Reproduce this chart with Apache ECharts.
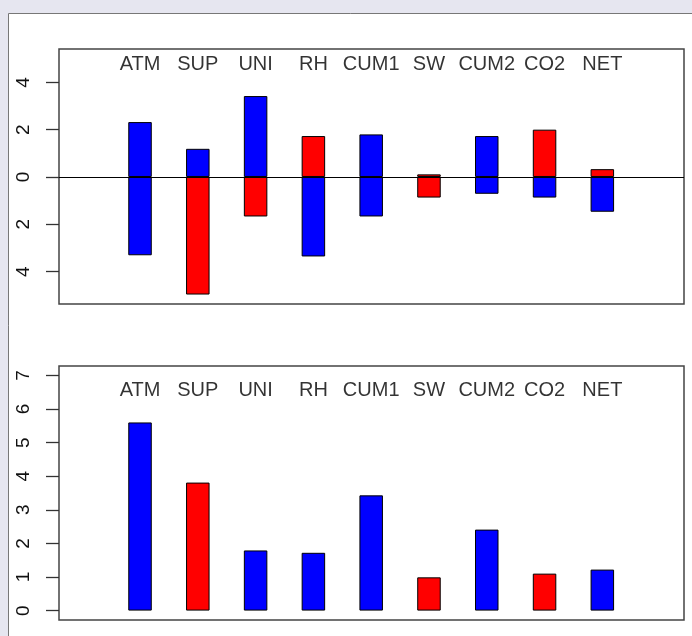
<!DOCTYPE html>
<html>
<head>
<meta charset="utf-8">
<script src="https://cdn.jsdelivr.net/npm/echarts@6/dist/echarts.min.js"></script>
<style>
html,body{margin:0;padding:0;background:#E6E6F0;}
#c{width:692px;height:636px;}
</style>
</head>
<body>
<div id="c"></div>
<script>
// ---- data ----
var categories = ['ATM','SUP','UNI','RH','CUM1','SW','CUM2','CO2','NET'];
// top panel: positive and negative parts of each bar
var topPos = [2.32, 1.19, 3.42, 1.73, 1.80, 0.11, 1.73, 2.00, 0.33];
var topPosKind = ['b','b','b','r','b','r','b','r','r'];
var topNeg = [-3.31, -4.97, -1.67, -3.36, -1.67, -0.87, -0.71, -0.87, -1.47];
var topNegKind = ['b','r','r','b','b','r','b','b','b'];
// bottom panel
var botVals = [5.60, 3.81, 1.79, 1.72, 3.43, 0.99, 2.41, 1.10, 1.22];
var botKind = ['b','r','b','b','b','r','b','r','b'];
// tick labels
var topTicks = [-4, -2, 0, 2, 4];
var botTicks = [0, 1, 2, 3, 4, 5, 6, 7];

// ---- styling ----
var COL = {b:'#0000FF', r:'#FF0000'};
var FONT = 'Liberation Sans, Arial, sans-serif';
var X_MIN = -1.402, X_MAX = 9.413;

function barData(vals, kinds){
  return vals.map(function(v,i){
    return {value:[i, v], itemStyle:{color:COL[kinds[i]]}};
  });
}
function labelData(yPos){
  return categories.map(function(n,i){ return {value:[i, yPos], name:n}; });
}
var barStyle = {borderColor:'#000', borderWidth:1};
var labelSeries = function(xi, yi, yPos){
  return {
    type:'scatter', xAxisIndex:xi, yAxisIndex:yi, silent:true,
    symbolSize:1, itemStyle:{color:'transparent'},
    data: labelData(yPos),
    label:{show:true, position:'inside', formatter:function(p){return p.name;},
           fontSize:20, fontFamily:FONT, color:'#000'},
    z:5
  };
};
function yAxisCfg(gi, min, max, ticks){
  return {
    type:'value', gridIndex:gi, min:min, max:max, position:'left',
    axisLine:{show:false, onZero:false},
    splitLine:{show:false},
    axisTick:{show:true, length:13, customValues:ticks, lineStyle:{color:'#333', width:1.3}},
    axisLabel:{show:true, customValues:ticks, rotate:90, margin:26,
      fontSize:19, fontFamily:FONT, color:'#111',
      formatter:function(v){ return String(Math.abs(v)); }}
  };
}
function xAxisCfg(gi){
  return {type:'value', gridIndex:gi, min:X_MIN, max:X_MAX, show:false,
          axisLine:{onZero:false}};
}

var chart = echarts.init(document.getElementById('c'), null, {renderer:'canvas'});
chart.setOption({
  animation:false,
  backgroundColor:'#E6E6F0',
  graphic:[{
    type:'rect', z:-10, silent:true,
    shape:{x:8.5, y:13.5, width:720, height:660},
    style:{fill:'#fff', stroke:'#777', lineWidth:1}
  }],
  grid:[
    {left:59, top:49, width:625, height:255, show:true, borderColor:'#444', borderWidth:1.5, backgroundColor:'transparent'},
    {left:59, top:366, width:625, height:254, show:true, borderColor:'#444', borderWidth:1.5, backgroundColor:'transparent'}
  ],
  xAxis:[xAxisCfg(0), xAxisCfg(1)],
  yAxis:[yAxisCfg(0, -5.37, 5.41, topTicks), yAxisCfg(1, -0.28, 7.28, botTicks)],
  series:[
    {type:'bar', xAxisIndex:0, yAxisIndex:0, barWidth:23.5, barGap:'-100%',
     itemStyle:barStyle, data:barData(topPos, topPosKind)},
    {type:'bar', xAxisIndex:0, yAxisIndex:0, barWidth:23.5, barGap:'-100%',
     itemStyle:barStyle, data:barData(topNeg, topNegKind),
     markLine:{silent:true, symbol:'none', label:{show:false},
       lineStyle:{color:'#000', width:1, type:'solid'},
       data:[{yAxis:0}]}},
    labelSeries(0, 0, 4.76),
    {type:'bar', xAxisIndex:1, yAxisIndex:1, barWidth:23.5,
     itemStyle:barStyle, data:barData(botVals, botKind)},
    labelSeries(1, 1, 6.54)
  ]
});
</script>
</body>
</html>
